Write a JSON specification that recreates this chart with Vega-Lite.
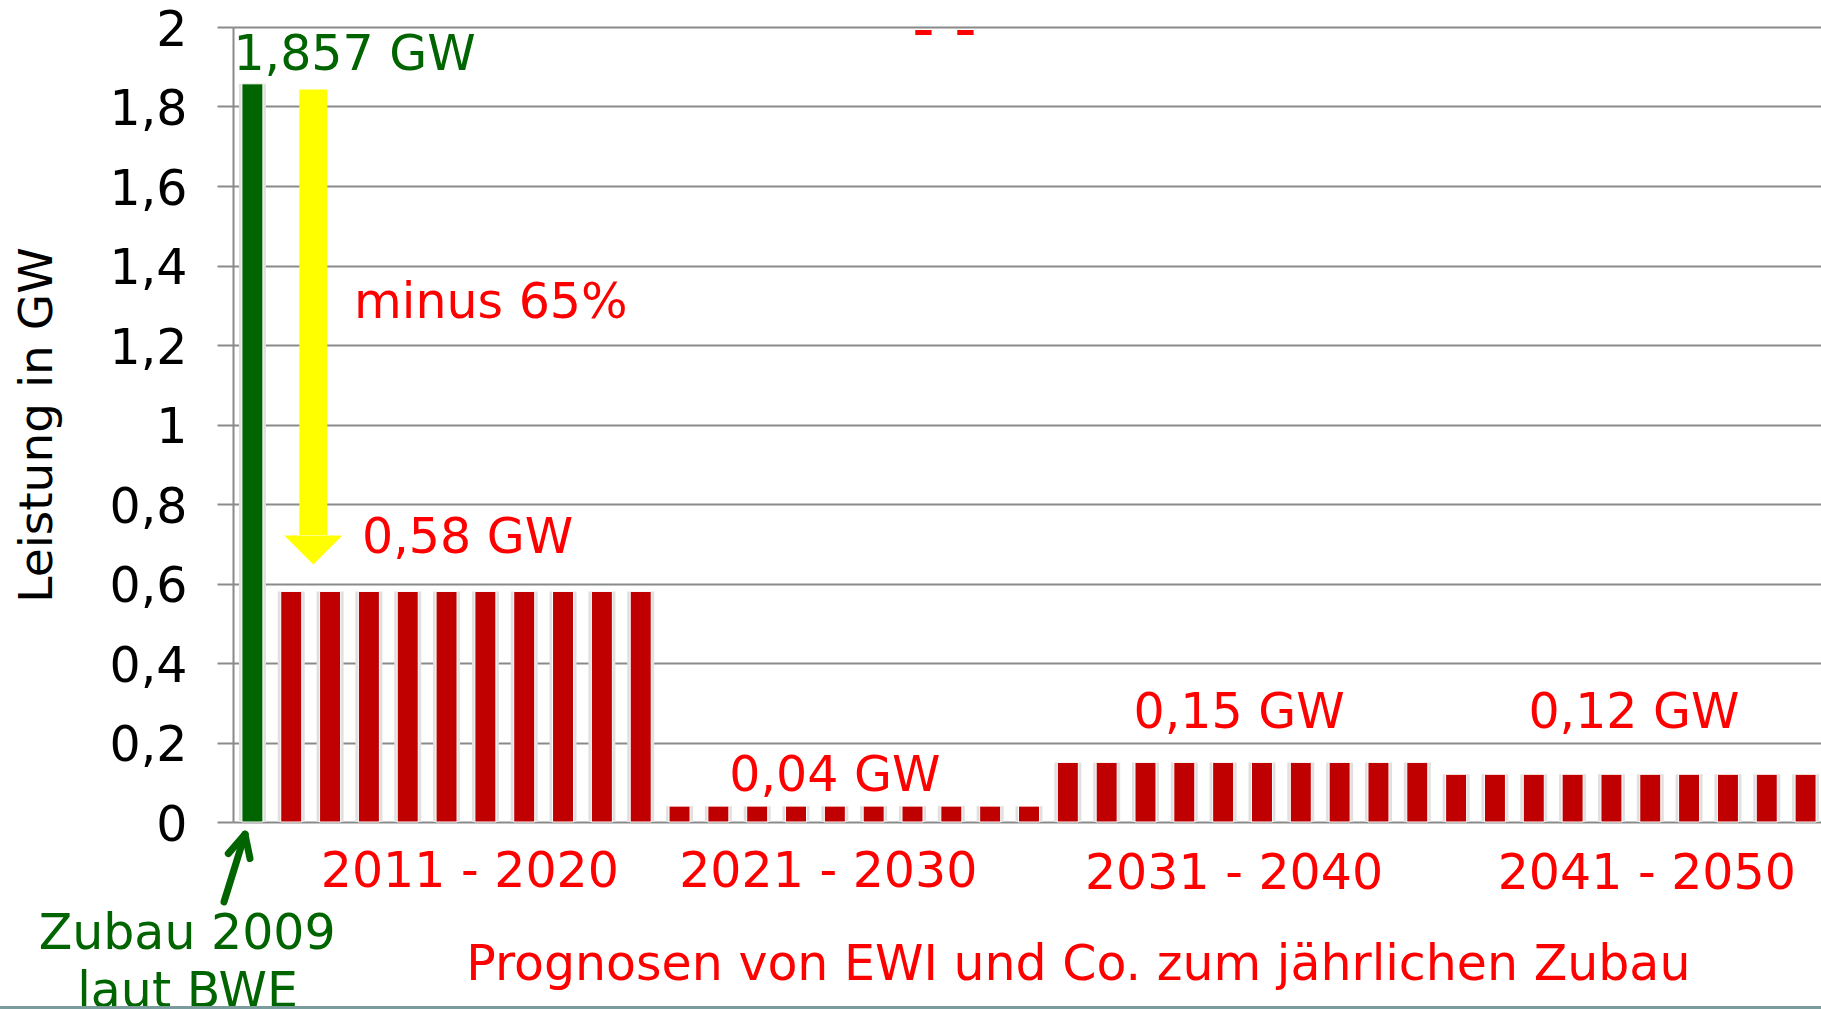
{
  "$schema": "https://vega.github.io/schema/vega-lite/v6.json",
  "autosize": {"type": "none"},
  "padding": {"left": 233, "top": 27, "right": 0, "bottom": 187},
  "width": 1592,
  "height": 795,
  "background": "white",
  "config": {
    "view": {"stroke": null},
    "font": "DejaVu Sans",
    "text": {"font": "DejaVu Sans", "fontSize": 49}
  },
  "datasets": {
    "bars": [
      {"pos": 0, "period": "2009", "gw": 1.857, "kind": "Zubau 2009"},
      {"pos": 1, "period": "2011 - 2020", "gw": 0.58, "kind": "Prognose"},
      {"pos": 2, "period": "2011 - 2020", "gw": 0.58, "kind": "Prognose"},
      {"pos": 3, "period": "2011 - 2020", "gw": 0.58, "kind": "Prognose"},
      {"pos": 4, "period": "2011 - 2020", "gw": 0.58, "kind": "Prognose"},
      {"pos": 5, "period": "2011 - 2020", "gw": 0.58, "kind": "Prognose"},
      {"pos": 6, "period": "2011 - 2020", "gw": 0.58, "kind": "Prognose"},
      {"pos": 7, "period": "2011 - 2020", "gw": 0.58, "kind": "Prognose"},
      {"pos": 8, "period": "2011 - 2020", "gw": 0.58, "kind": "Prognose"},
      {"pos": 9, "period": "2011 - 2020", "gw": 0.58, "kind": "Prognose"},
      {"pos": 10, "period": "2011 - 2020", "gw": 0.58, "kind": "Prognose"},
      {"pos": 11, "period": "2021 - 2030", "gw": 0.04, "kind": "Prognose"},
      {"pos": 12, "period": "2021 - 2030", "gw": 0.04, "kind": "Prognose"},
      {"pos": 13, "period": "2021 - 2030", "gw": 0.04, "kind": "Prognose"},
      {"pos": 14, "period": "2021 - 2030", "gw": 0.04, "kind": "Prognose"},
      {"pos": 15, "period": "2021 - 2030", "gw": 0.04, "kind": "Prognose"},
      {"pos": 16, "period": "2021 - 2030", "gw": 0.04, "kind": "Prognose"},
      {"pos": 17, "period": "2021 - 2030", "gw": 0.04, "kind": "Prognose"},
      {"pos": 18, "period": "2021 - 2030", "gw": 0.04, "kind": "Prognose"},
      {"pos": 19, "period": "2021 - 2030", "gw": 0.04, "kind": "Prognose"},
      {"pos": 20, "period": "2021 - 2030", "gw": 0.04, "kind": "Prognose"},
      {"pos": 21, "period": "2031 - 2040", "gw": 0.15, "kind": "Prognose"},
      {"pos": 22, "period": "2031 - 2040", "gw": 0.15, "kind": "Prognose"},
      {"pos": 23, "period": "2031 - 2040", "gw": 0.15, "kind": "Prognose"},
      {"pos": 24, "period": "2031 - 2040", "gw": 0.15, "kind": "Prognose"},
      {"pos": 25, "period": "2031 - 2040", "gw": 0.15, "kind": "Prognose"},
      {"pos": 26, "period": "2031 - 2040", "gw": 0.15, "kind": "Prognose"},
      {"pos": 27, "period": "2031 - 2040", "gw": 0.15, "kind": "Prognose"},
      {"pos": 28, "period": "2031 - 2040", "gw": 0.15, "kind": "Prognose"},
      {"pos": 29, "period": "2031 - 2040", "gw": 0.15, "kind": "Prognose"},
      {"pos": 30, "period": "2031 - 2040", "gw": 0.15, "kind": "Prognose"},
      {"pos": 31, "period": "2041 - 2050", "gw": 0.12, "kind": "Prognose"},
      {"pos": 32, "period": "2041 - 2050", "gw": 0.12, "kind": "Prognose"},
      {"pos": 33, "period": "2041 - 2050", "gw": 0.12, "kind": "Prognose"},
      {"pos": 34, "period": "2041 - 2050", "gw": 0.12, "kind": "Prognose"},
      {"pos": 35, "period": "2041 - 2050", "gw": 0.12, "kind": "Prognose"},
      {"pos": 36, "period": "2041 - 2050", "gw": 0.12, "kind": "Prognose"},
      {"pos": 37, "period": "2041 - 2050", "gw": 0.12, "kind": "Prognose"},
      {"pos": 38, "period": "2041 - 2050", "gw": 0.12, "kind": "Prognose"},
      {"pos": 39, "period": "2041 - 2050", "gw": 0.12, "kind": "Prognose"},
      {"pos": 40, "period": "2041 - 2050", "gw": 0.12, "kind": "Prognose"}
    ],
    "redLabels": [
      {"label": "minus 65%", "pos": 6.14, "gw": 1.31},
      {"label": "0,58 GW", "pos": 5.54, "gw": 0.72},
      {"label": "0,04 GW", "pos": 15.0, "gw": 0.121},
      {"label": "0,15 GW", "pos": 25.41, "gw": 0.279},
      {"label": "0,12 GW", "pos": 35.58, "gw": 0.279},
      {"label": "2011 - 2020", "pos": 5.6, "gw": -0.1215},
      {"label": "2021 - 2030", "pos": 14.83, "gw": -0.1215},
      {"label": "2031 - 2040", "pos": 25.28, "gw": -0.127},
      {"label": "2041 - 2050", "pos": 35.91, "gw": -0.127},
      {"label": "Prognosen von EWI und Co. zum jährlichen Zubau", "pos": 21.27, "gw": -0.355}
    ],
    "dashes": [
      {"label": "-", "pos": 17.28, "gw": 1.989},
      {"label": "-", "pos": 18.36, "gw": 1.989}
    ],
    "greenLabels": [
      {"label": "1,857 GW", "pos": 2.63, "gw": 1.934},
      {"label": "Zubau 2009", "pos": -1.68, "gw": -0.276},
      {"label": "laut BWE", "pos": -1.67, "gw": -0.422}
    ],
    "yellowShaft": [{"pos": 1.568, "top": 1.843, "bottom": 0.722}],
    "yellowHead": [{"pos": 1.568, "gw": 0.684}],
    "greenArrow": [
      {"x1": -0.732, "y1": -0.201, "x2": -0.191, "y2": -0.031},
      {"x1": -0.621, "y1": -0.0795, "x2": -0.191, "y2": -0.031},
      {"x1": -0.062, "y1": -0.092, "x2": -0.191, "y2": -0.031}
    ],
    "frame": [{"x1": -6.5, "x2": 41, "y": -0.4667}]
  },
  "layer": [
    {
      "data": {"name": "bars"},
      "mark": {"type": "bar", "size": 27, "color": "#e0e0e0"},
      "encoding": {
        "x": {"field": "pos", "type": "quantitative", "scale": {"domain": [-0.5, 40.5], "nice": false, "zero": false, "padding": 0}, "axis": null},
        "y": {
          "field": "gw", "type": "quantitative",
          "scale": {"domain": [0, 2], "nice": false, "padding": 0},
          "axis": {
            "title": "Leistung in GW",
            "titleFont": "DejaVu Sans", "titleFontSize": 47, "titleFontWeight": "normal", "titleColor": "black",
            "titlePadding": 48,
            "values": [0, 0.2, 0.4, 0.6, 0.8, 1, 1.2, 1.4, 1.6, 1.8, 2],
            "labelExpr": "replace(format(datum.value, '~g'), '.', ',')",
            "labelFont": "DejaVu Sans", "labelFontSize": 49, "labelColor": "black",
            "labelPadding": 30, "labelOffset": 3,
            "tickSize": 16, "tickColor": "#8a8a8a", "tickWidth": 2,
            "domainColor": "#8a8a8a", "domainWidth": 2,
            "grid": true, "gridColor": "#8a8a8a", "gridWidth": 2
          }
        }
      }
    },
    {
      "data": {"name": "bars"},
      "mark": {"type": "bar", "size": 21, "stroke": "white", "strokeWidth": 1},
      "encoding": {
        "x": {"field": "pos", "type": "quantitative"},
        "y": {"field": "gw", "type": "quantitative"},
        "color": {"field": "kind", "type": "nominal", "scale": {"domain": ["Zubau 2009", "Prognose"], "range": ["#006400", "#c00000"]}, "legend": null}
      }
    },
    {
      "data": {"name": "yellowShaft"},
      "mark": {"type": "rule", "color": "#ffff00", "strokeWidth": 28, "strokeCap": "butt"},
      "encoding": {
        "x": {"field": "pos", "type": "quantitative"},
        "y": {"field": "top", "type": "quantitative"},
        "y2": {"field": "bottom"}
      }
    },
    {
      "data": {"name": "yellowHead"},
      "mark": {"type": "point", "shape": "M-1,-0.5L1,-0.5L0,0.5Z", "filled": true, "opacity": 1, "color": "#ffff00", "size": 3364, "strokeWidth": 0},
      "encoding": {
        "x": {"field": "pos", "type": "quantitative"},
        "y": {"field": "gw", "type": "quantitative"}
      }
    },
    {
      "data": {"name": "greenArrow"},
      "mark": {"type": "rule", "color": "#006400", "strokeWidth": 7, "strokeCap": "round"},
      "encoding": {
        "x": {"field": "x1", "type": "quantitative"},
        "x2": {"field": "x2"},
        "y": {"field": "y1", "type": "quantitative"},
        "y2": {"field": "y2"}
      }
    },
    {
      "data": {"name": "redLabels"},
      "mark": {"type": "text", "color": "#ff0000", "align": "center", "baseline": "middle", "fontSize": 49, "dy": 2},
      "encoding": {
        "x": {"field": "pos", "type": "quantitative"},
        "y": {"field": "gw", "type": "quantitative"},
        "text": {"field": "label"}
      }
    },
    {
      "data": {"name": "dashes"},
      "mark": {"type": "text", "color": "#ff0000", "align": "center", "baseline": "middle", "fontSize": 62},
      "encoding": {
        "x": {"field": "pos", "type": "quantitative"},
        "y": {"field": "gw", "type": "quantitative"},
        "text": {"field": "label"}
      }
    },
    {
      "data": {"name": "greenLabels"},
      "mark": {"type": "text", "color": "#006400", "align": "center", "baseline": "middle", "fontSize": 49, "dy": 2},
      "encoding": {
        "x": {"field": "pos", "type": "quantitative"},
        "y": {"field": "gw", "type": "quantitative"},
        "text": {"field": "label"}
      }
    },
    {
      "data": {"name": "frame"},
      "mark": {"type": "rule", "color": "#7a9c9c", "strokeWidth": 3},
      "encoding": {
        "x": {"field": "x1", "type": "quantitative"},
        "x2": {"field": "x2"},
        "y": {"field": "y", "type": "quantitative"}
      }
    }
  ]
}
